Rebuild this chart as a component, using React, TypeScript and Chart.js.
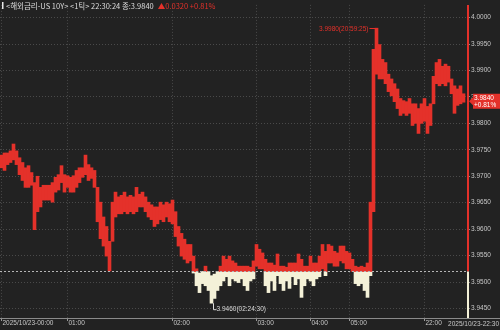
import React, { useEffect, useRef } from "react";
import { Chart, registerables } from "chart.js";

Chart.register(...registerables);

// ---- data ----
const TITLE = "<해외금리-US 10Y> <1틱> 22:30:24 종:3.9840";
const CHANGE_TEXT = "▲0.0320 +0.81%";
const BASE = 3.952; // previous close
const CLOSE = 3.984;
const CLOSE_PCT = "+0.81%";
const MAX_TIME = "20:59:25";
const MIN_TIME = "02:24:30";
const LAST_TIME = "2025/10/23-22:30";
const SLOTS = 156;

const HIGHS = [
  3.974, 3.9744, 3.9744, 3.9748, 3.9761, 3.9748, 3.9735, 3.9726, 3.9716, 3.972,
  3.9707, 3.9688, 3.97, 3.9679, 3.9683, 3.9683, 3.9683, 3.9688, 3.9698, 3.9703,
  3.972, 3.9703, 3.9701, 3.9698, 3.9701, 3.9711, 3.9716, 3.9716, 3.974, 3.9722,
  3.9716, 3.9711, 3.9679, 3.9651, 3.9623, 3.9605, 3.9577, 3.9651, 3.967, 3.9661,
  3.9664, 3.967, 3.9661, 3.9664, 3.9661, 3.9679, 3.9666, 3.967, 3.9661, 3.9651,
  3.9646, 3.9642, 3.9642, 3.9651, 3.9646, 3.9651, 3.9648, 3.9655, 3.9633, 3.9605,
  3.9592, 3.9581, 3.9571, 3.9571, 3.9549, 3.9525, 3.9517, 3.952, 3.953, 3.952,
  3.9512, 3.9515, 3.952, 3.953, 3.9549, 3.9543, 3.9549, 3.954, 3.9536, 3.953,
  3.953, 3.953, 3.953, 3.9528, 3.954, 3.9571, 3.9562, 3.9555, 3.9543, 3.9536,
  3.9536, 3.9532, 3.9553, 3.953, 3.953, 3.9528, 3.9536, 3.9536, 3.9536, 3.9553,
  3.9543, 3.953, 3.953, 3.9549, 3.9536, 3.9536, 3.9549, 3.9571, 3.9558, 3.9571,
  3.9568, 3.9558, 3.9555, 3.9568, 3.9568, 3.9558, 3.9555, 3.9543, 3.953, 3.9528,
  3.953, 3.9528, 3.9536, 3.9651, 3.994, 3.998, 3.9949, 3.9921, 3.9915, 3.9893,
  3.9884, 3.9875, 3.9865, 3.9847, 3.9843, 3.9841, 3.9847, 3.9837, 3.9837, 3.9828,
  3.9837, 3.9847, 3.9832, 3.9837, 3.9889, 3.9915, 3.9921, 3.9908, 3.9912, 3.9908,
  3.9884, 3.9871, 3.9865, 3.9871, 3.9856,
];

const LOWS = [
  3.9716, 3.9711, 3.9722, 3.9726, 3.9731, 3.9722, 3.9703, 3.9692, 3.9679, 3.9679,
  3.9683, 3.9599, 3.9633, 3.9642, 3.9655, 3.9655, 3.9655, 3.9651, 3.967, 3.9674,
  3.9688, 3.967, 3.9679, 3.967, 3.967, 3.9679, 3.9688, 3.9698, 3.9703, 3.9692,
  3.9696, 3.9679, 3.9614, 3.9582, 3.9568, 3.9549, 3.9521, 3.9577, 3.9623, 3.9629,
  3.9629, 3.9633, 3.9629, 3.9633, 3.9629, 3.9633, 3.9642, 3.9642, 3.9633, 3.9623,
  3.9618, 3.9605, 3.961, 3.9618, 3.9614, 3.9623, 3.9614, 3.961, 3.9586, 3.9568,
  3.9549, 3.9543, 3.9536, 3.954, 3.9517, 3.9493, 3.948, 3.9497, 3.9493, 3.9484,
  3.946, 3.9469, 3.9484, 3.9493, 3.9502, 3.951, 3.9493, 3.9506, 3.9502, 3.9499,
  3.9506, 3.9493, 3.9484, 3.9502, 3.9506, 3.953, 3.9525, 3.9525, 3.9493, 3.948,
  3.9502, 3.9484, 3.9512, 3.9497, 3.9484, 3.9502, 3.9488, 3.951, 3.9495, 3.9506,
  3.9471, 3.9493, 3.9506, 3.9502, 3.9493, 3.9506, 3.951, 3.9525, 3.9512, 3.9536,
  3.9536, 3.953, 3.953, 3.954, 3.9536, 3.9525, 3.9525, 3.952, 3.9497, 3.9493,
  3.9497, 3.9484, 3.9471, 3.9512, 3.9633, 3.9893, 3.9884, 3.9884, 3.9875, 3.986,
  3.9852, 3.9841, 3.9828, 3.9815, 3.9819, 3.9815, 3.9819, 3.9796, 3.98, 3.9781,
  3.98, 3.9804, 3.9781, 3.9796, 3.9837, 3.9875, 3.9871, 3.9875, 3.9871, 3.9878,
  3.9856, 3.9819, 3.9834, 3.9837, 3.984,
];

const Y_TICKS = [3.945, 3.95, 3.955, 3.96, 3.965, 3.97, 3.975, 3.98, 3.985, 3.99, 3.995, 4.0];
const Y_MIN = 3.9432;
const Y_MAX = 4.0024;

const X_TICK_INDEX = [0, 22, 57, 85, 103, 116, 141];
const X_TICK_TEXT = ["2025/10/23-00:00", "01:00", "02:00", "03:00", "04:00", "05:00", "22:00"];

// ---- styles ----
const BG = "#222222";
const RED = "#e4312a";
const CREAM = "#f4f1d8";
const GRID = "#4a4a4a";
const TEXT = "#c8c8c8";
const FONT_FAMILY = "'Liberation Sans', Arial, sans-serif";
const KR_FONT = "'Noto Sans CJK KR', 'Liberation Sans', sans-serif";
const AXIS_FONT_SIZE = 6.5;

export default function App() {
  const ref = useRef<HTMLCanvasElement | null>(null);

  useEffect(() => {
    if (!ref.current) return;

    const labels = Array.from({ length: SLOTS }, (_, i) => {
      const k = X_TICK_INDEX.indexOf(i);
      return k >= 0 ? X_TICK_TEXT[k] : "";
    });
    const redData = HIGHS.map((h, i) => (h > BASE ? [Math.max(LOWS[i], BASE), h] : null));
    const creamData = LOWS.map((l, i) => (l < BASE ? [l, Math.min(HIGHS[i], BASE)] : null));

    let maxIdx = 0;
    let minIdx = 0;
    HIGHS.forEach((h, i) => { if (h > HIGHS[maxIdx]) maxIdx = i; });
    LOWS.forEach((l, i) => { if (l < LOWS[minIdx]) minIdx = i; });

    const bgPlugin = {
      id: "bg",
      beforeDraw(chart: any) {
        const { ctx } = chart;
        ctx.save();
        ctx.fillStyle = BG;
        ctx.fillRect(0, 0, chart.width, chart.height);
        ctx.restore();
      },
    };

    const overlay = {
      id: "overlay",
      afterDatasetsDraw(chart: any) {
        const { ctx, chartArea } = chart;
        const xs = chart.scales.x;
        const ys = chart.scales.y;
        const baseY = ys.getPixelForValue(BASE);
        ctx.save();

        // baseline (previous close)
        ctx.strokeStyle = "#b5b5b5";
        ctx.lineWidth = 1;
        ctx.setLineDash([2, 2]);
        ctx.beginPath();
        ctx.moveTo(chartArea.left, Math.round(baseY) + 0.5);
        ctx.lineTo(chartArea.right, Math.round(baseY) + 0.5);
        ctx.stroke();
        ctx.setLineDash([]);

        // current-time line
        ctx.lineWidth = 2;
        ctx.strokeStyle = RED;
        ctx.beginPath();
        ctx.moveTo(chartArea.right, chartArea.top);
        ctx.lineTo(chartArea.right, baseY);
        ctx.stroke();
        ctx.strokeStyle = CREAM;
        ctx.beginPath();
        ctx.moveTo(chartArea.right, baseY);
        ctx.lineTo(chartArea.right, chartArea.bottom);
        ctx.stroke();

        // x axis line
        ctx.lineWidth = 1;
        ctx.strokeStyle = "#8a8a8a";
        ctx.beginPath();
        ctx.moveTo(0, chartArea.bottom + 0.5);
        ctx.lineTo(chart.width, chartArea.bottom + 0.5);
        ctx.stroke();

        ctx.font = `${AXIS_FONT_SIZE}px ${FONT_FAMILY}`;
        ctx.textBaseline = "middle";

        // max annotation
        const mx = xs.getPixelForValue(maxIdx);
        const my = ys.getPixelForValue(HIGHS[maxIdx]);
        ctx.strokeStyle = RED;
        ctx.fillStyle = RED;
        ctx.beginPath();
        ctx.moveTo(mx - 7, Math.round(my) + 0.5);
        ctx.lineTo(mx, Math.round(my) + 0.5);
        ctx.stroke();
        ctx.textAlign = "right";
        ctx.fillText(`${HIGHS[maxIdx].toFixed(4)}(${MAX_TIME})`, mx - 8, my + 1);

        // min annotation
        const nx = xs.getPixelForValue(minIdx) + 1;
        const ny = ys.getPixelForValue(LOWS[minIdx]);
        ctx.strokeStyle = "#dcdcdc";
        ctx.fillStyle = "#dcdcdc";
        ctx.beginPath();
        ctx.moveTo(Math.round(nx) + 0.5, ny);
        ctx.lineTo(Math.round(nx) + 0.5, ny + 6.5);
        ctx.lineTo(nx + 4, ny + 6.5);
        ctx.stroke();
        ctx.textAlign = "left";
        ctx.fillText(`${LOWS[minIdx].toFixed(4)}(${MIN_TIME})`, nx + 4, ny + 6);

        // price tag
        const cy = ys.getPixelForValue(CLOSE) - 1;
        const tx = chartArea.right + 2;
        ctx.fillStyle = RED;
        ctx.beginPath();
        ctx.moveTo(tx - 1, cy);
        ctx.lineTo(tx + 3, cy - 4);
        ctx.lineTo(tx + 3, cy - 7.5);
        ctx.lineTo(chart.width, cy - 7.5);
        ctx.lineTo(chart.width, cy + 7.5);
        ctx.lineTo(tx + 3, cy + 7.5);
        ctx.lineTo(tx + 3, cy + 4);
        ctx.closePath();
        ctx.fill();
        ctx.fillStyle = "#ffffff";
        ctx.textAlign = "left";
        ctx.fillText(CLOSE.toFixed(4), tx + 4, cy - 3);
        ctx.fillText(CLOSE_PCT, tx + 4, cy + 4);

        // last time label
        ctx.fillStyle = TEXT;
        ctx.textAlign = "right";
        ctx.font = `${AXIS_FONT_SIZE}px ${FONT_FAMILY}`;
        ctx.fillText(LAST_TIME, chart.width - 1, chartArea.bottom + 6.5);

        // header
        ctx.fillStyle = "#e8e8e8";
        ctx.fillRect(2, 2, 1.5, 7);
        ctx.font = `7.5px ${KR_FONT}`;
        ctx.textAlign = "left";
        ctx.fillStyle = "#dddddd";
        ctx.fillText(TITLE, 6, 6);
        const w = ctx.measureText(TITLE).width;
        ctx.fillStyle = RED;
        ctx.fillText(CHANGE_TEXT, 6 + w + 4, 6);

        ctx.restore();
      },
    };

    const isTick = (c: any) => X_TICK_INDEX.indexOf(c.index) >= 0;

    const chart = new Chart(ref.current, {
      type: "bar",
      data: {
        labels,
        datasets: [
          {
            data: redData as any,
            backgroundColor: RED,
            borderWidth: 0,
            grouped: false,
            barPercentage: 1,
            categoryPercentage: 1,
          },
          {
            data: creamData as any,
            backgroundColor: CREAM,
            borderWidth: 0,
            grouped: false,
            barPercentage: 1,
            categoryPercentage: 1,
          },
        ],
      },
      options: {
        animation: false,
        responsive: true,
        maintainAspectRatio: false,
        layout: { padding: 0, autoPadding: false },
        plugins: { legend: { display: false }, tooltip: { enabled: false } },
        scales: {
          x: {
            type: "category",
            offset: true,
            grid: {
              offset: false,
              color: (c: any) => (c.type === "tick" && isTick(c) ? GRID : "transparent"),
              tickColor: (c: any) => (isTick(c) ? "#9a9a9a" : "transparent"),
              tickLength: 3,
              lineWidth: 1,
            },
            border: { display: false, dash: [1, 2] },
            ticks: {
              autoSkip: false,
              maxRotation: 0,
              minRotation: 0,
              align: "start",
              labelOffset: 1,
              padding: -2,
              color: TEXT,
              font: { family: FONT_FAMILY, size: AXIS_FONT_SIZE },
            },
            afterFit: (s: any) => {
              s.height = 12;
            },
          },
          y: {
            position: "right",
            min: Y_MIN,
            max: Y_MAX,
            afterBuildTicks: (s: any) => {
              s.ticks = Y_TICKS.map((v) => ({ value: v }));
            },
            grid: { color: GRID, tickLength: 2, tickColor: "#8a8a8a", lineWidth: 1 },
            border: { display: false, dash: [1, 2] },
            ticks: {
              callback: (v: any) => Number(v).toFixed(4),
              color: TEXT,
              padding: 1,
              font: { family: FONT_FAMILY, size: AXIS_FONT_SIZE },
            },
            afterFit: (s: any) => {
              s.width = 32;
            },
          },
        },
      } as any,
      plugins: [bgPlugin, overlay],
    });

    return () => chart.destroy();
  }, []);

  return (
    <div style={{ position: "absolute", left: 0, top: 0, width: 500, height: 330, background: BG }}>
      <canvas ref={ref} />
    </div>
  );
}
